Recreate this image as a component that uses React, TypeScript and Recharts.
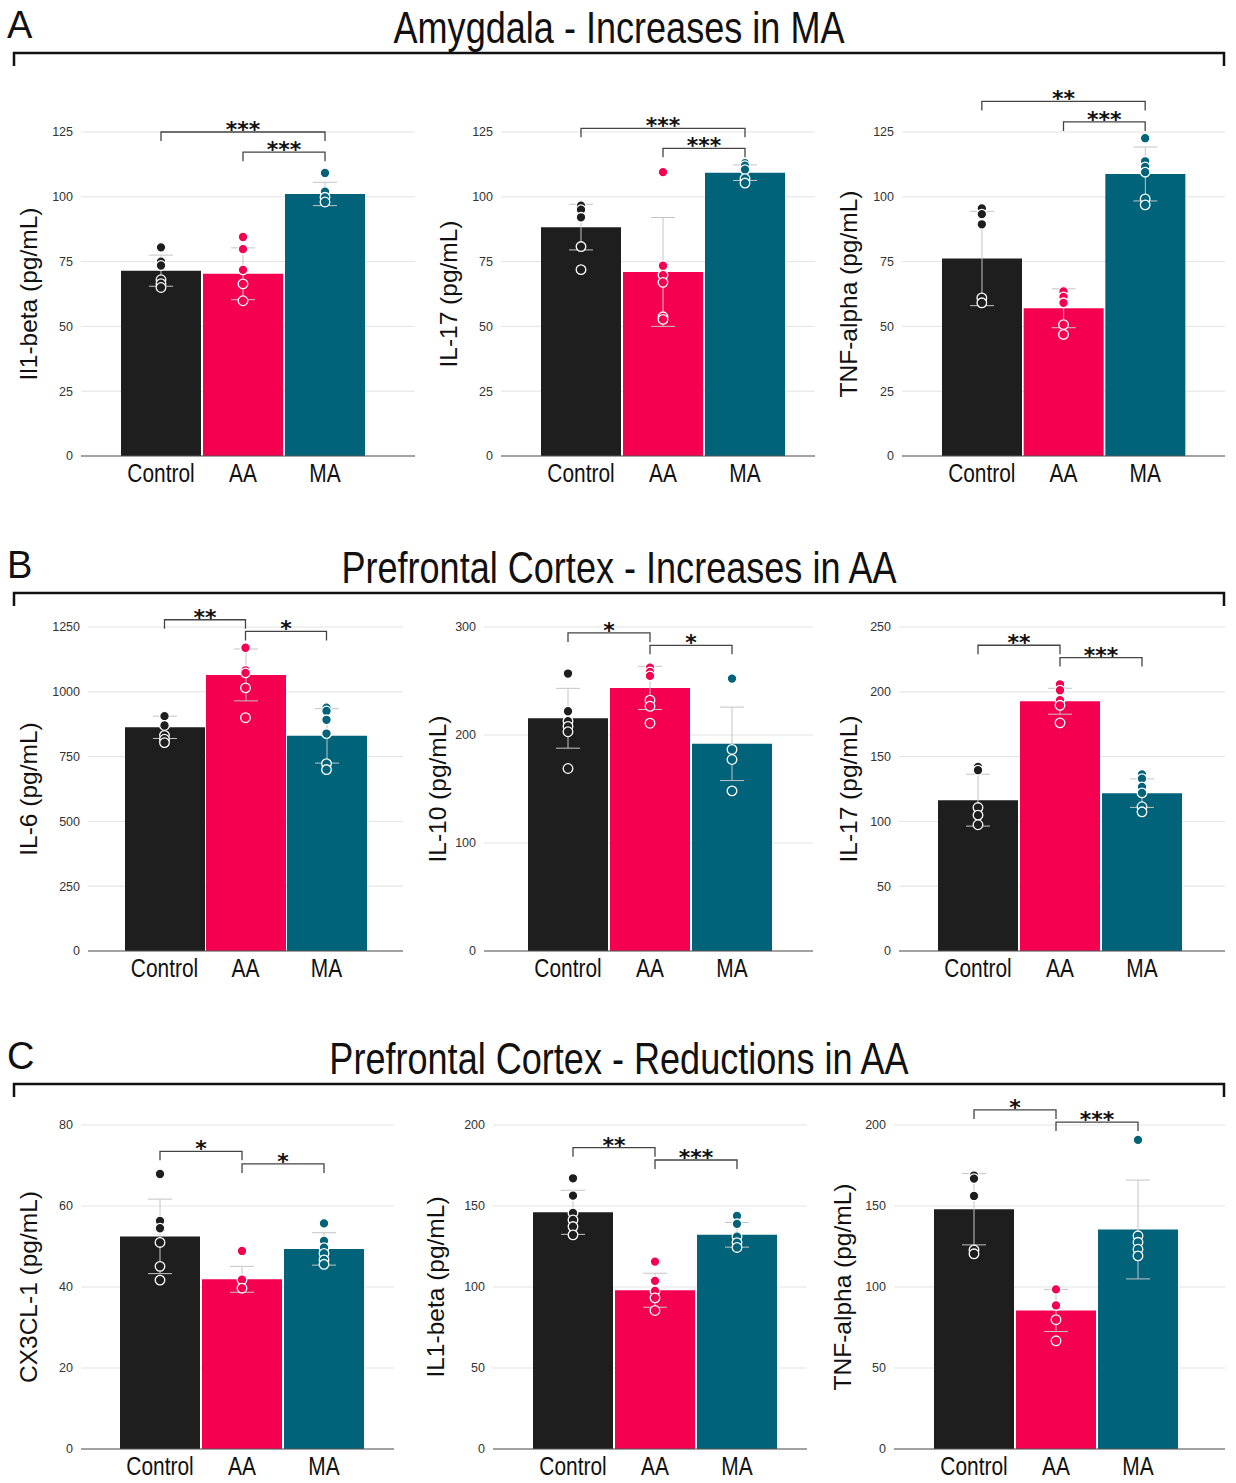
import React from 'react';
import {
  ComposedChart,
  Bar,
  Cell,
  ErrorBar,
  Scatter,
  XAxis,
  YAxis,
  CartesianGrid,
  ReferenceLine,
} from 'recharts';

const groups = ['Control', 'AA', 'MA'];
const groupColors = ['#1e1e1e', '#f50051', '#00637a'];

const SANS = "'Liberation Sans', Arial, sans-serif";
const STAR = "'DejaVu Sans', sans-serif";
// no narrow face is installed, so the condensed look is made by squeezing Liberation Sans
const NARROW_SCALE = 0.82;

// A - Amygdala
const amyIl1bMean = [71.5, 70.3, 101.1];
const amyIl1bErr = [6, 10, 4.5];
const amyIl1bPts = [[80.5, 75, 73.5, 68, 66.5, 65], [84.5, 79.8, 71.8, 66.4, 59.9], [109.2, 102, 99.8, 98]];

const amyIl17Mean = [88.3, 71, 109.3];
const amyIl17Err = [8.8, 21, 3];
const amyIl17Pts = [[96.6, 95, 92.1, 80.8, 71.9], [109.5, 73.4, 69.8, 67, 53.7, 52.7], [113, 112, 110.5, 107, 105.3]];

const amyTnfMean = [76.2, 57, 108.8];
const amyTnfErr = [18.2, 7.5, 10.4];
const amyTnfPts = [[95.5, 93.3, 89.4, 61, 59.1], [63.5, 61.4, 59.1, 50.7, 46.9], [122.6, 113.7, 111.5, 109.5, 99.2, 96.9]];

// B - Prefrontal cortex, increases in AA
const pfcIl6Mean = [863, 1065, 830];
const pfcIl6Err = [43, 100, 105];
const pfcIl6Pts = [[906, 870, 832, 817, 804], [1170, 1083, 1073, 1015, 900], [939, 926, 892, 839, 723, 700]];

const pfcIl10Mean = [215.5, 243.6, 191.8];
const pfcIl10Err = [27.7, 20, 34];
const pfcIl10Pts = [[256.9, 222, 212.8, 208, 203, 169], [262.4, 258.4, 254.7, 232.2, 226.6, 210.9], [252.2, 186.6, 177.3, 148.3]];

const pfcIl17Mean = [116.4, 192.7, 121.8];
const pfcIl17Err = [20, 10, 11];
const pfcIl17Pts = [[142, 139.5, 110.7, 104.8, 97.4], [205.8, 201.2, 193.5, 189.6, 176], [136.2, 133, 126.6, 122, 111.3, 107.4]];

// C - Prefrontal cortex, reductions in AA
const pfcCx3Mean = [52.5, 41.9, 49.4];
const pfcCx3Err = [9.2, 3.2, 4];
const pfcCx3Pts = [[67.9, 56.3, 54.5, 51, 45.1, 41.7], [48.9, 41.8, 39.7], [55.7, 51.4, 49.7, 48.3, 46.7, 45.6]];

const pfcIl1bMean = [146.1, 98, 132.2];
const pfcIl1bErr = [13.6, 10.5, 7.6];
const pfcIl1bPts = [[167.1, 156.4, 145.7, 141.4, 137.3, 132.2], [115.7, 103.8, 97.6, 93.3, 85.5], [143.9, 139, 131.1, 127.4, 124.4]];

const pfcTnfMean = [148, 85.5, 135.5];
const pfcTnfErr = [22, 13, 30.5];
const pfcTnfPts = [[168.8, 166.9, 156.2, 122.9, 120.5], [98.5, 88.6, 79.8, 66.8], [190.8, 131.6, 127.6, 123.3, 119.2]];

// y-axis ticks
const ticks125 = [0, 25, 50, 75, 100, 125];
const ticks1250 = [0, 250, 500, 750, 1000, 1250];
const ticks300 = [0, 100, 200, 300];
const ticks250 = [0, 50, 100, 150, 200, 250];
const ticks80 = [0, 20, 40, 60, 80];
const ticks200 = [0, 50, 100, 150, 200];

type Comparison = { from: string; to: string; y: number; label: string };

const amyIl1bSig: Comparison[] = [
  { from: 'Control', to: 'MA', y: 125, label: '***' },
  { from: 'AA', to: 'MA', y: 117.2, label: '***' },
];
const amyIl17Sig: Comparison[] = [
  { from: 'Control', to: 'MA', y: 126.4, label: '***' },
  { from: 'AA', to: 'MA', y: 118.7, label: '***' },
];
const amyTnfSig: Comparison[] = [
  { from: 'Control', to: 'MA', y: 136.8, label: '**' },
  { from: 'AA', to: 'MA', y: 128.9, label: '***' },
];
const pfcIl6Sig: Comparison[] = [
  { from: 'Control', to: 'AA', y: 1278, label: '**' },
  { from: 'AA', to: 'MA', y: 1233, label: '*' },
];
const pfcIl10Sig: Comparison[] = [
  { from: 'Control', to: 'AA', y: 294.5, label: '*' },
  { from: 'AA', to: 'MA', y: 283, label: '*' },
];
const pfcIl17Sig: Comparison[] = [
  { from: 'Control', to: 'AA', y: 235.9, label: '**' },
  { from: 'AA', to: 'MA', y: 226.4, label: '***' },
];
const pfcCx3Sig: Comparison[] = [
  { from: 'Control', to: 'AA', y: 73.5, label: '*' },
  { from: 'AA', to: 'MA', y: 70.4, label: '*' },
];
const pfcIl1bSig: Comparison[] = [
  { from: 'Control', to: 'AA', y: 186, label: '**' },
  { from: 'AA', to: 'MA', y: 178.4, label: '***' },
];
const pfcTnfSig: Comparison[] = [
  { from: 'Control', to: 'AA', y: 209.3, label: '*' },
  { from: 'AA', to: 'MA', y: 201.8, label: '***' },
];

const sectionLetters = ['A', 'B', 'C'];
const sectionTitles = [
  'Amygdala - Increases in MA',
  'Prefrontal Cortex - Increases in AA',
  'Prefrontal Cortex - Reductions in AA',
];

// page layout: section bracket line heights and plot boxes
const sectionLineY = [53, 593, 1084];

const M_LEFT = 30;
const Y_W = 50;
const M_TOP = 70;
const PLOT_H = 324;
const X_H = 30;
const M_BOTTOM = 10;

const panels = [
  { yTitle: 'Il1-beta (pg/mL)', means: amyIl1bMean, errs: amyIl1bErr, pts: amyIl1bPts, ticks: ticks125, sig: amyIl1bSig, left: 81, right: 415, top: 132, padL: 39, padR: 49, titleOff: 53 },
  { yTitle: 'IL-17 (pg/mL)', means: amyIl17Mean, errs: amyIl17Err, pts: amyIl17Pts, ticks: ticks125, sig: amyIl17Sig, left: 501, right: 815, top: 132, padL: 39, padR: 29, titleOff: 53 },
  { yTitle: 'TNF-alpha (pg/mL)', means: amyTnfMean, errs: amyTnfErr, pts: amyTnfPts, ticks: ticks125, sig: amyTnfSig, left: 902, right: 1225, top: 132, padL: 39, padR: 39, titleOff: 54 },
  { yTitle: 'IL-6 (pg/mL)', means: pfcIl6Mean, errs: pfcIl6Err, pts: pfcIl6Pts, ticks: ticks1250, sig: pfcIl6Sig, left: 88, right: 403, top: 627, padL: 36, padR: 36, titleOff: 60 },
  { yTitle: 'IL-10 (pg/mL)', means: pfcIl10Mean, errs: pfcIl10Err, pts: pfcIl10Pts, ticks: ticks300, sig: pfcIl10Sig, left: 484, right: 813, top: 627, padL: 43, padR: 40, titleOff: 47 },
  { yTitle: 'IL-17 (pg/mL)', means: pfcIl17Mean, errs: pfcIl17Err, pts: pfcIl17Pts, ticks: ticks250, sig: pfcIl17Sig, left: 899, right: 1225, top: 627, padL: 38, padR: 42, titleOff: 51 },
  { yTitle: 'CX3CL-1 (pg/mL)', means: pfcCx3Mean, errs: pfcCx3Err, pts: pfcCx3Pts, ticks: ticks80, sig: pfcCx3Sig, left: 81, right: 394, top: 1125, padL: 38, padR: 29, titleOff: 53 },
  { yTitle: 'IL1-beta (pg/mL)', means: pfcIl1bMean, errs: pfcIl1bErr, pts: pfcIl1bPts, ticks: ticks200, sig: pfcIl1bSig, left: 493, right: 807, top: 1125, padL: 39, padR: 29, titleOff: 58 },
  { yTitle: 'TNF-alpha (pg/mL)', means: pfcTnfMean, errs: pfcTnfErr, pts: pfcTnfPts, ticks: ticks200, sig: pfcTnfSig, left: 894, right: 1225, top: 1125, padL: 39, padR: 46, titleOff: 52 },
];

const Dot = (props: any) => {
  const { cx, cy, payload } = props;
  if (!Number.isFinite(cx) || !Number.isFinite(cy)) return <g />;
  const idx = groups.indexOf(payload?.group);
  return <circle cx={cx} cy={cy} r={4.8} fill={groupColors[idx]} stroke="#ffffff" strokeWidth={1.3} />;
};

const XTick = (props: any) => {
  const { x, y, payload } = props;
  return (
    <text
      transform={`translate(${x} ${y}) scale(${NARROW_SCALE} 1)`}
      textAnchor="middle"
      dy="0.71em"
      fontSize={25.5}
      fill="#111"
      fontFamily={SANS}
    >
      {payload.value}
    </text>
  );
};

const bracketShape = (label: string) => (p: any) => {
  const { x1, x2, y1 } = p;
  if (![x1, x2, y1].every(Number.isFinite)) return <g />;
  return (
    <g>
      <path d={`M${x1},${y1 + 9}V${y1}H${x2}V${y1 + 9}`} fill="none" stroke="#444" strokeWidth={1.3} />
      <text
        x={(x1 + x2) / 2}
        y={y1 + 5}
        textAnchor="middle"
        fontSize={22}
        fontWeight="bold"
        fill="#111"
        fontFamily={STAR}
      >
        {label}
      </text>
    </g>
  );
};

function Panel({ cfg }: { cfg: (typeof panels)[number] }) {
  const rows = groups.map((g, i) => {
    const row: Record<string, any> = { group: g, mean: cfg.means[i], err: cfg.errs[i] };
    for (let k = 0; k < 6; k++) row[`p${k}`] = cfg.pts[i][k] ?? null;
    return row;
  });
  const maxTick = cfg.ticks[cfg.ticks.length - 1];
  const plotW = cfg.right - cfg.left;
  const width = M_LEFT + Y_W + plotW + 4;
  const height = M_TOP + PLOT_H + X_H + M_BOTTOM;
  const titleX = M_LEFT + Y_W - cfg.titleOff;
  const titleY = M_TOP + PLOT_H / 2;

  return (
    <div style={{ position: 'absolute', left: cfg.left - M_LEFT - Y_W, top: cfg.top - M_TOP }}>
      <ComposedChart
        width={width}
        height={height}
        data={rows}
        margin={{ top: M_TOP, right: 4, left: M_LEFT, bottom: M_BOTTOM }}
      >
        <CartesianGrid vertical={false} stroke="#e3e3e3" />
        <XAxis
          dataKey="group"
          padding={{ left: cfg.padL, right: cfg.padR }}
          tickLine={false}
          axisLine={{ stroke: '#555', strokeWidth: 1.2 }}
          tick={<XTick />}
          height={X_H}
          interval={0}
        />
        <YAxis
          width={Y_W}
          domain={[0, maxTick]}
          ticks={cfg.ticks}
          allowDataOverflow
          interval={0}
          tickLine={false}
          axisLine={false}
          tick={{ fontSize: 12.5, fill: '#333', fontFamily: SANS }}
          label={() => (
            <text
              x={titleX}
              y={titleY}
              transform={`rotate(-90, ${titleX}, ${titleY})`}
              textAnchor="middle"
              dominantBaseline="central"
              fontSize={24.5}
              fill="#111"
              fontFamily={SANS}
            >
              {cfg.yTitle}
            </text>
          )}
        />
        <Bar dataKey="mean" barSize={80} isAnimationActive={false}>
          {rows.map((r, i) => (
            <Cell key={r.group} fill={groupColors[i]} />
          ))}
          <ErrorBar dataKey="err" width={12} stroke="#c4c4c4" strokeWidth={1} direction="y" />
        </Bar>
        {[0, 1, 2, 3, 4, 5].map((k) => (
          <Scatter key={k} dataKey={`p${k}`} shape={Dot} isAnimationActive={false} />
        ))}
        {cfg.sig.map((s, i) => (
          <ReferenceLine
            key={i}
            segment={[
              { x: s.from, y: s.y },
              { x: s.to, y: s.y },
            ]}
            ifOverflow="visible"
            shape={bracketShape(s.label)}
          />
        ))}
      </ComposedChart>
    </div>
  );
}

export default function App() {
  return (
    <div style={{ position: 'absolute', left: 0, top: 0, width: 1236, height: 1483, background: '#fff' }}>
      <svg width={1236} height={1483} style={{ position: 'absolute', left: 0, top: 0 }}>
        {sectionTitles.map((t, i) => {
          const ly = sectionLineY[i];
          return (
            <g key={t}>
              <text x={7} y={ly - 15} fontSize={38} fill="#111" fontFamily={SANS}>
                {sectionLetters[i]}
              </text>
              <text
                transform={`translate(619 ${ly - 10}) scale(${NARROW_SCALE} 1)`}
                fontSize={44}
                fill="#111"
                textAnchor="middle"
                fontFamily={SANS}
              >
                {t}
              </text>
              <path d={`M14,${ly + 13}V${ly}H1224V${ly + 13}`} fill="none" stroke="#111" strokeWidth={2.5} />
            </g>
          );
        })}
      </svg>
      {panels.map((p) => (
        <Panel key={p.left + '-' + p.top} cfg={p} />
      ))}
    </div>
  );
}
